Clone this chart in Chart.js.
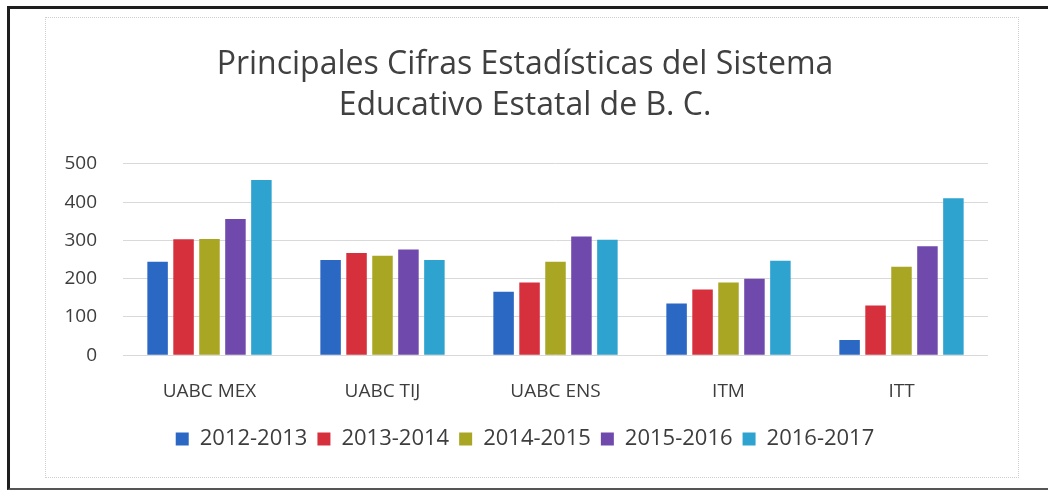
<!DOCTYPE html>
<html>
<head>
<meta charset="utf-8">
<script src="https://cdn.jsdelivr.net/npm/chart.js@4.4.1/dist/chart.umd.min.js"></script>
<style>
  html, body { margin: 0; padding: 0; background: #ffffff; }
  #wrap { position: relative; width: 1048px; height: 495px; overflow: hidden; }
  #outer { position: absolute; left: 7px; top: 6px; width: 1060px; height: 484px;
           border-left: 3px solid #1e1e1e; border-top: 3px solid #1e1e1e; border-bottom: 2px solid #555; box-sizing: border-box; }
  #inner { position: absolute; left: 45px; top: 17px; width: 974px; height: 461px;
           border: 1px dotted #cfcfcf; box-sizing: border-box; }
  canvas { position: absolute; left: 0; top: 0; }
</style>
</head>
<body>
<div id="wrap">
  <div id="outer"></div>
  <div id="inner"></div>
  <canvas id="c" width="1048" height="495"></canvas>
</div>
<script>
const categories = ["UABC MEX", "UABC TIJ", "UABC ENS", "ITM", "ITT"];
const seriesNames = ["2012-2013", "2013-2014", "2014-2015", "2015-2016", "2016-2017"];
const s2012 = [244, 249, 166, 135, 40];
const s2013 = [303, 267, 190, 172, 130];
const s2014 = [304, 260, 244, 190, 231];
const s2015 = [356, 276, 310, 200, 285];
const s2016 = [458, 249, 302, 247, 410];
const yTicks = [0, 100, 200, 300, 400, 500];
const colors = ["#2b68c3", "#d6303c", "#a9a624", "#7049ad", "#2ea3cf"];

const seriesValues = [s2012, s2013, s2014, s2015, s2016];
const FONT = "'Open Sans', 'DejaVu Sans', sans-serif";
const TXT = "#3d3d3d";

const legendShift = {
  id: 'legendShift',
  afterLayout(chart) {
    const lg = chart.legend;
    if (lg) { lg.top -= 10; lg.bottom -= 10; }
  }
};

new Chart(document.getElementById('c'), {
  type: 'bar',
  data: {
    labels: categories,
    datasets: seriesNames.map((n, i) => ({
      label: n,
      data: seriesValues[i],
      backgroundColor: colors[i],
      borderWidth: 0,
      categoryPercentage: 0.75,
      barPercentage: 0.79
    }))
  },
  plugins: [legendShift],
  options: {
    responsive: false,
    animation: false,
    devicePixelRatio: 1,
    layout: { padding: { left: 62, right: 60, top: 0, bottom: 25 } },
    plugins: {
      title: {
        display: true,
        text: ["Principales Cifras Estadísticas del Sistema", "Educativo Estatal de B. C."],
        color: "#404040",
        font: { family: FONT, size: 32, weight: 'normal', lineHeight: 1.28 },
        padding: { top: 44, bottom: 38 }
      },
      legend: {
        position: 'bottom',
        labels: {
          color: TXT,
          font: { family: FONT, size: 22 },
          boxWidth: 13, boxHeight: 13,
          padding: 10
        }
      },
      tooltip: { enabled: false }
    },
    scales: {
      x: {
        grid: { display: false, drawTicks: false },
        border: { display: false },
        ticks: { color: TXT, font: { family: FONT, size: 19 }, padding: 25 }
      },
      y: {
        min: 0, max: 500,
        afterFit: (s) => { s.width = 61; },
        afterBuildTicks: (s) => { s.ticks = yTicks.map(v => ({ value: v })); },
        grid: { color: "#d9d9d9", lineWidth: 1, drawTicks: false },
        border: { display: false },
        ticks: { color: TXT, font: { family: FONT, size: 19 }, padding: 26 }
      }
    }
  }
});
</script>
</body>
</html>
